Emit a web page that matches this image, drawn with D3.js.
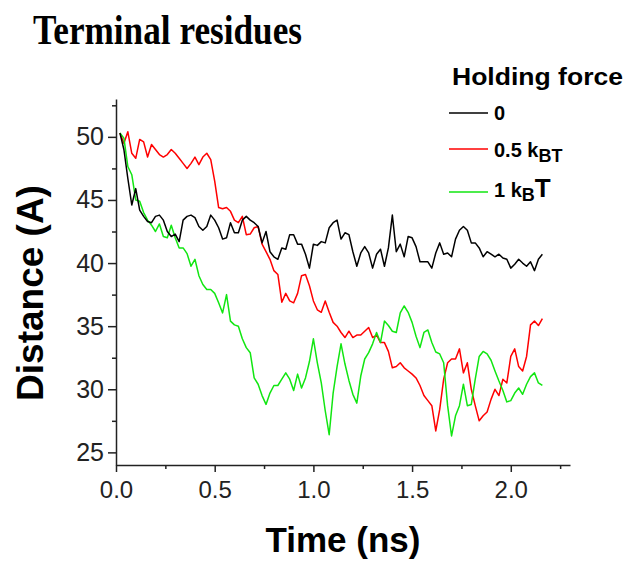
<!DOCTYPE html>
<html>
<head>
<meta charset="utf-8">
<script src="https://cdn.jsdelivr.net/npm/d3@7/dist/d3.min.js"></script>
<style>
    body { margin: 0; background: white; }
</style>
</head>
<body>
<div id="chart"></div>
<script>
//time of first frame and spacing between frames (ns)
const startTime = 0.02;
const timeStep = 0.02;

//distance (A) between terminal residues, holding force 0
const distance0 = [
    50.3, 49.0, 46.7, 44.6, 45.9, 44.2, 43.7, 43.3, 43.2, 43.7,
    43.8, 43.4, 42.5, 42.1, 42.3, 41.7, 43.4, 43.7, 43.8, 43.6,
    42.9, 42.6, 42.9, 43.8, 43.4, 42.8, 41.9, 42.0, 43.2, 42.4,
    42.4, 43.4, 43.7, 43.4, 43.2, 42.9, 41.6, 42.5, 40.9, 40.5,
    40.3, 41.2, 41.1, 42.25, 42.25, 41.5, 41.5, 40.7, 39.6, 41.5,
    41.4, 41.7, 41.6, 42.8, 43.2, 43.4, 41.9, 42.4, 42.25, 40.9,
    39.75, 40.8, 41.3, 40.8, 39.6, 40.7, 41.1, 39.75, 41.2, 43.8,
    40.9, 41.5, 40.5, 42.1, 42.0, 41.3, 40.1, 40.1, 40.1, 39.6,
    40.8, 41.6, 40.7, 40.8, 40.5, 41.9, 42.6, 42.9, 42.6, 41.6,
    41.6, 41.2, 40.5, 40.9, 40.7, 40.5, 40.7, 40.4, 40.3, 39.6,
    39.9, 40.3, 40.0, 39.75, 40.1, 39.4, 40.3, 40.7
];

//holding force 0.5 kBT
const distance05 = [
    50.3, 49.5, 50.4, 48.7, 48.3, 49.8, 49.6, 48.4, 49.4, 49.0,
    48.6, 48.4, 48.6, 49.0, 48.7, 48.3, 47.9, 47.5, 47.9, 48.4,
    47.8, 48.4, 48.7, 48.2, 46.5, 44.4, 44.3, 44.4, 44.1, 43.4,
    43.2, 43.7, 42.25, 42.3, 42.8, 42.9, 41.5, 40.9, 40.3, 39.4,
    39.1, 36.9, 37.6, 37.0, 36.85, 37.6, 39.0, 39.1, 38.2, 37.0,
    36.3, 36.1, 37.0, 36.1, 35.3, 35.0, 34.5, 34.1, 34.6, 34.1,
    34.3, 34.3, 34.6, 34.9, 34.1, 34.3, 33.7, 33.7, 33.0, 31.7,
    31.8, 32.1, 31.7, 31.45, 31.2, 30.9, 30.3, 29.5, 29.1, 28.7,
    26.7, 28.4, 30.8, 32.1, 32.4, 32.4, 33.2, 31.3, 32.1, 30.0,
    28.7, 27.5, 27.9, 28.2, 29.2, 30.0, 29.5, 30.8, 30.5, 32.6,
    33.2, 31.8, 31.45, 32.6, 35.1, 35.4, 35.05, 35.6
];

//holding force 1 kBT
const distance1 = [
    50.3, 49.9, 47.65, 47.0, 45.0, 44.9, 44.0, 43.4, 43.0, 42.5,
    43.1, 42.1, 42.0, 43.0, 42.0, 41.2, 41.2, 40.75, 39.75, 40.3,
    39.0, 38.3, 37.9, 37.9, 37.6, 36.85, 36.05, 37.5, 35.4, 35.1,
    35.0, 34.0, 33.3, 32.9, 30.9, 30.4, 29.5, 28.8, 29.7, 30.3,
    30.3, 30.8, 31.3, 30.8, 29.9, 31.2, 30.1, 30.9, 32.2, 34.0,
    32.1, 30.5, 28.3, 26.4, 29.7, 31.8, 33.6, 32.0, 30.7, 29.6,
    28.9, 31.05, 32.4, 32.9, 33.6, 34.5, 33.7, 35.4, 35.05, 34.6,
    34.5, 36.05, 36.6, 36.1, 35.3, 34.2, 33.3, 34.5, 34.7, 33.7,
    32.95, 32.8, 32.1, 28.7, 26.3, 27.9, 28.7, 30.4, 28.7, 28.8,
    30.8, 32.6, 33.0, 32.8, 32.3, 31.45, 30.65, 29.9, 29.0, 29.1,
    29.7, 30.1, 29.6, 30.4, 31.0, 31.3, 30.5, 30.3
];

const xTicks = [0, 0.5, 1.0, 1.5, 2.0];
const xMinorTicks = [0.25, 0.75, 1.25, 1.75, 2.25];
const yTicks = [25, 30, 35, 40, 45, 50];
const yMinorTicks = [27.5, 32.5, 37.5, 42.5, 47.5, 52.5];

const width = 631;
const height = 563;
const margin = { top: 99, right: 61, bottom: 98, left: 116 };

const svg = d3.select("#chart")
    .append("svg")
    .attr("width", width)
    .attr("height", height)
    .style("font-family", "'Liberation Sans', Arial, sans-serif");

//scales
const xScale = d3.scaleLinear()
    .domain([0, 2.3])
    .range([margin.left, width - margin.right]);

const yScale = d3.scaleLinear()
    .domain([24, 53])
    .range([height - margin.bottom, margin.top]);

//series drawn in this order, black on the bottom
const series = [
    { values: distance05, color: "#ff0000" },
    { values: distance1, color: "#11e611" },
    { values: distance0, color: "#000000" }
];

const line = d3.line()
    .x(function(d, i) { return xScale(startTime + i * timeStep); })
    .y(function(d) { return yScale(d); });

svg.selectAll(".trace")
    .data(series)
    .enter()
    .append("path")
    .attr("class", "trace")
    .attr("d", function(d) { return line(d.values); })
    .attr("fill", "none")
    .attr("stroke", function(d) { return d.color; })
    .attr("stroke-width", 1.5)
    .attr("stroke-linejoin", "round");

//x axis
svg.append("g")
    .attr("transform", "translate(0," + (height - margin.bottom) + ")")
    .call(d3.axisBottom(xScale)
        .tickValues(xTicks)
        .tickFormat(d3.format(".1f"))
        .tickSize(7)
        .tickPadding(9)
        .tickSizeOuter(0));

svg.append("g")
    .attr("transform", "translate(0," + (height - margin.bottom) + ")")
    .call(d3.axisBottom(xScale)
        .tickValues(xMinorTicks)
        .tickFormat("")
        .tickSize(4))
    .select(".domain").remove();

//y axis
const yAxisG = svg.append("g")
    .attr("transform", "translate(" + margin.left + ",0)")
    .call(d3.axisLeft(yScale)
        .tickValues(yTicks)
        .tickSize(8)
        .tickPadding(4)
        .tickSizeOuter(0));

svg.append("g")
    .attr("transform", "translate(" + margin.left + ",0)")
    .call(d3.axisLeft(yScale)
        .tickValues(yMinorTicks)
        .tickFormat("")
        .tickSize(4))
    .select(".domain").remove();

svg.selectAll(".domain, .tick line")
    .attr("stroke", "#222")
    .attr("stroke-width", 1.5);

svg.selectAll(".tick text")
    .attr("fill", "#222")
    .style("font-size", "24px")
    .style("font-family", "'Liberation Sans', Arial, sans-serif");

yAxisG.selectAll(".tick text")
    .style("font-size", "25px");

//axis titles
svg.append("text")
    .attr("x", 343)
    .attr("y", 552)
    .attr("text-anchor", "middle")
    .attr("font-weight", "bold")
    .attr("font-size", "35px")
    .text("Time (ns)");

svg.append("text")
    .attr("transform", "translate(43,293) rotate(-90)")
    .attr("text-anchor", "middle")
    .attr("font-weight", "bold")
    .attr("font-size", "37px")
    .text("Distance (A)");

//title
svg.append("text")
    .attr("x", 33)
    .attr("y", 44)
    .attr("font-family", "'Liberation Serif', 'Times New Roman', serif")
    .attr("font-weight", "bold")
    .attr("font-size", "42px")
    .attr("textLength", 269)
    .attr("lengthAdjust", "spacingAndGlyphs")
    .text("Terminal residues");

//legend
const legend = svg.append("g");

legend.append("text")
    .attr("x", 452)
    .attr("y", 85)
    .attr("font-weight", "bold")
    .attr("font-size", "24px")
    .attr("textLength", 171)
    .attr("lengthAdjust", "spacingAndGlyphs")
    .text("Holding force");

const legendRows = [
    { color: "#000000", y: 113 },
    { color: "#ff0000", y: 149 },
    { color: "#11e611", y: 192 }
];

legend.selectAll(".legend-line")
    .data(legendRows)
    .enter()
    .append("line")
    .attr("class", "legend-line")
    .attr("x1", 449)
    .attr("x2", 488)
    .attr("y1", function(d) { return d.y; })
    .attr("y2", function(d) { return d.y; })
    .attr("stroke", function(d) { return d.color; })
    .attr("stroke-width", 1.5);

legend.append("text")
    .attr("x", 494)
    .attr("y", 120)
    .attr("font-weight", "bold")
    .attr("font-size", "20px")
    .text("0");

const label05 = legend.append("text")
    .attr("x", 494)
    .attr("y", 157)
    .attr("font-weight", "bold")
    .attr("font-size", "20px");
label05.append("tspan").text("0.5 k");
label05.append("tspan").attr("dy", 5).attr("font-size", "18px").text("BT");

const label1 = legend.append("text")
    .attr("x", 494)
    .attr("y", 197)
    .attr("font-weight", "bold")
    .attr("font-size", "20px");
label1.append("tspan").text("1 k");
label1.append("tspan").attr("dy", 4).attr("font-size", "18px").text("B");
label1.append("tspan").attr("dy", -4).attr("font-size", "26px").text("T");
</script>
</body>
</html>
